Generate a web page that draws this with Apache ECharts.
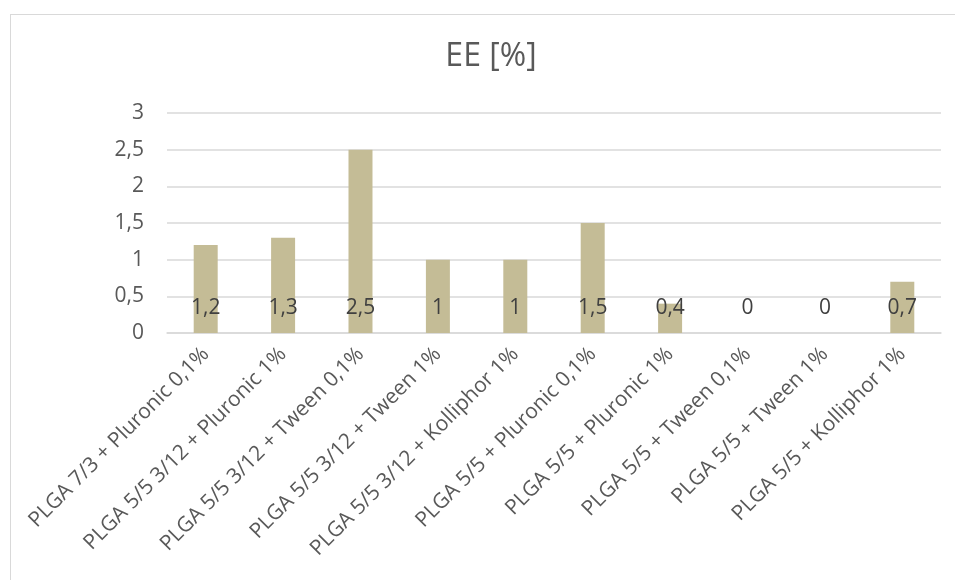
<!DOCTYPE html>
<html>
<head>
<meta charset="utf-8">
<script src="https://cdn.jsdelivr.net/npm/echarts@6/dist/echarts.min.js"></script>
<style>
  html, body { margin: 0; padding: 0; background: #fff; }
  #frame { position: absolute; left: 10px; top: 14px; width: 960px; height: 580px;
           border-left: 1px solid #d9d9d9; border-top: 1px solid #d9d9d9; }
  #chart { position: absolute; left: 0; top: 0; width: 955px; height: 580px; }
</style>
</head>
<body>
<div id="frame"></div>
<div id="chart"></div>
<script>
// Encapsulation efficiency per formulation
const categories = [
  'PLGA 7/3 + Pluronic 0,1%',
  'PLGA 5/5 3/12 + Pluronic 1%',
  'PLGA 5/5 3/12 + Tween 0,1%',
  'PLGA 5/5 3/12 + Tween 1%',
  'PLGA 5/5 3/12 + Kolliphor 1%',
  'PLGA 5/5 + Pluronic 0,1%',
  'PLGA 5/5 + Pluronic 1%',
  'PLGA 5/5 + Tween 0,1%',
  'PLGA 5/5 + Tween 1%',
  'PLGA 5/5 + Kolliphor 1%'
];
const eeValues = [1.2, 1.3, 2.5, 1, 1, 1.5, 0.4, 0, 0, 0.7];
const yTicks = [0, 0.5, 1, 1.5, 2, 2.5, 3];

const FONT = '"Open Sans", "DejaVu Sans", sans-serif';
const TEXT = '#595959';
const comma = v => String(v).replace('.', ',');

const chart = echarts.init(document.getElementById('chart'), null, { renderer: 'canvas' });
chart.setOption({
  animation: false,
  backgroundColor: 'transparent',
  title: {
    text: 'EE [%]',
    left: 486, top: 36, textAlign: 'center',
    textStyle: { fontFamily: FONT, fontSize: 32, fontWeight: 'normal', color: TEXT }
  },
  grid: { left: 167, right: 14, top: 113, bottom: 247, containLabel: false },
  xAxis: {
    type: 'category',
    data: categories,
    axisLine: { lineStyle: { color: '#d9d9d9', width: 1.5 } },
    axisTick: { show: false },
    axisLabel: {
      interval: 0, rotate: 45, margin: 18,
      fontFamily: FONT, fontSize: 21, color: TEXT
    }
  },
  yAxis: {
    type: 'value',
    min: yTicks[0], max: yTicks[yTicks.length - 1], interval: 0.5,
    axisLine: { show: false },
    axisTick: { show: false },
    splitLine: { lineStyle: { color: '#d9d9d9', width: 1.5 } },
    axisLabel: {
      margin: 23, fontFamily: FONT, fontSize: 21, color: TEXT,
      formatter: v => comma(v)
    }
  },
  series: [{
    type: 'bar',
    data: eeValues,
    barWidth: '31%',
    itemStyle: { color: '#c4bc96' },
    label: {
      show: true, position: 'insideBottom', distance: 14,
      fontFamily: FONT, fontSize: 21, color: '#404040',
      formatter: p => comma(p.value)
    }
  }]
});
</script>
</body>
</html>
